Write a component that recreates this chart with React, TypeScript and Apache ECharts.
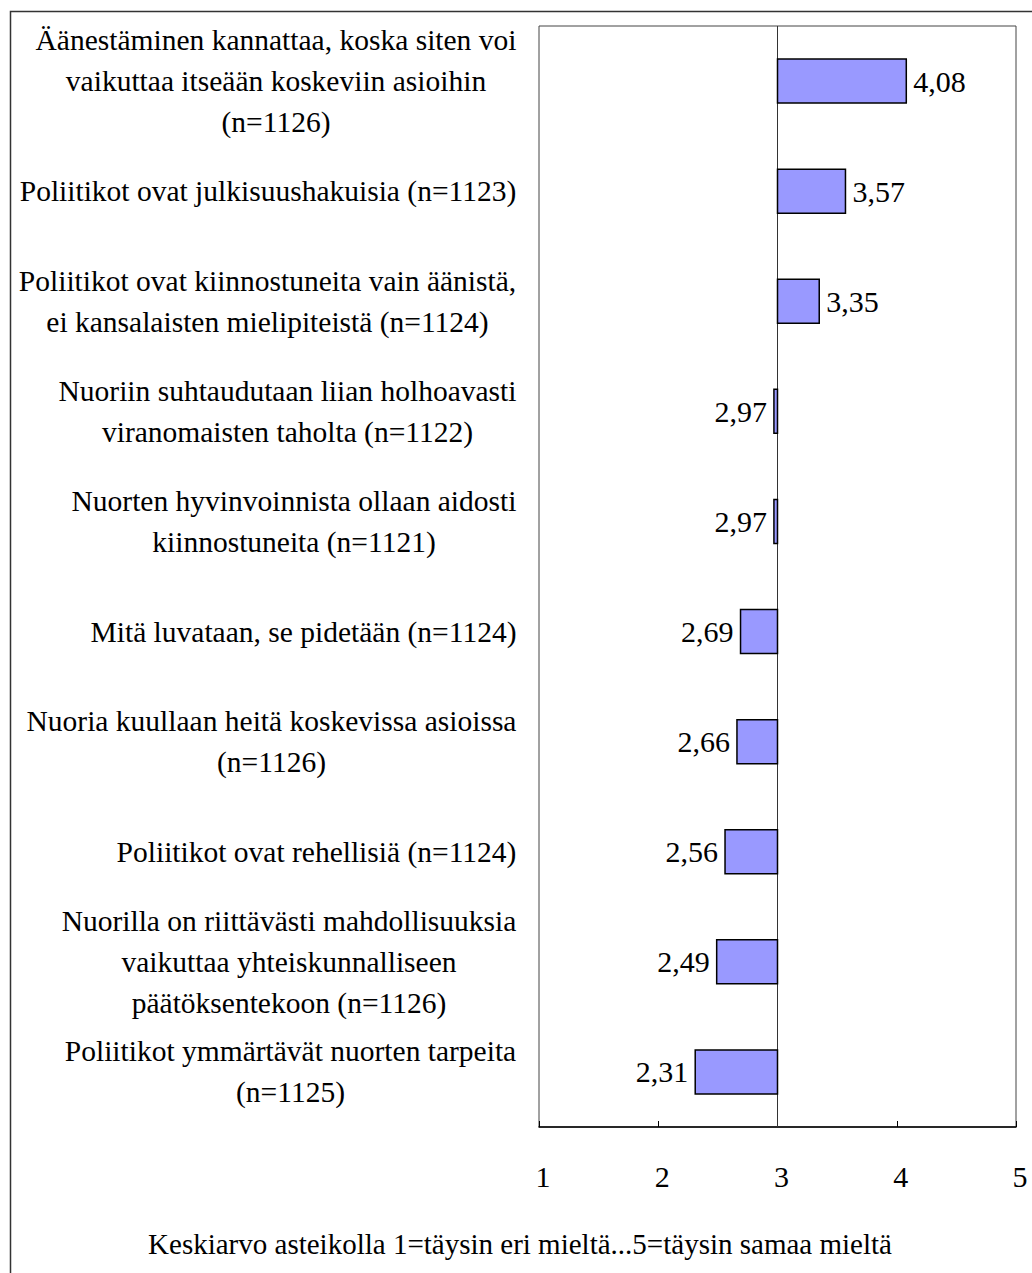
import React, { useEffect, useRef } from "react";
import * as echarts from "echarts";

const categories = [
  "Äänestäminen kannattaa, koska siten voi\nvaikuttaa itseään koskeviin asioihin\n(n=1126)",
  "Poliitikot ovat julkisuushakuisia (n=1123)",
  "Poliitikot ovat kiinnostuneita vain äänistä,\nei kansalaisten mielipiteistä (n=1124)",
  "Nuoriin suhtaudutaan liian holhoavasti\nviranomaisten taholta (n=1122)",
  "Nuorten hyvinvoinnista ollaan aidosti\nkiinnostuneita (n=1121)",
  "Mitä luvataan, se pidetään (n=1124)",
  "Nuoria kuullaan heitä koskevissa asioissa\n(n=1126)",
  "Poliitikot ovat rehellisiä (n=1124)",
  "Nuorilla on riittävästi mahdollisuuksia\nvaikuttaa yhteiskunnalliseen\npäätöksentekoon (n=1126)",
  "Poliitikot ymmärtävät nuorten tarpeita\n(n=1125)",
];
const values = [4.08, 3.57, 3.35, 2.97, 2.97, 2.69, 2.66, 2.56, 2.49, 2.31];
const xMin = 1;
const xMax = 5;
const baseline = 3;
const xAxisTitle = "Keskiarvo asteikolla 1=täysin eri mieltä...5=täysin samaa mieltä";

const FONT = "'Liberation Serif', 'Times New Roman', Times, serif";
const FS = 29.5;

export default function App() {
  const ref = useRef<HTMLDivElement>(null);
  useEffect(() => {
    document.body.style.margin = "0";
    document.body.style.overflow = "hidden";
    const chart = echarts.init(ref.current!, null, { renderer: "svg" });

    const canvas = document.createElement("canvas");
    const ctx = canvas.getContext("2d")!;
    ctx.font = `${FS}px 'Liberation Serif', serif`;
    const widths = categories.map((c) =>
      Math.max(...c.split("\n").map((l) => ctx.measureText(l).width))
    );
    const rich: any = {};
    widths.forEach((w, i) => {
      rich["c" + i] = {
        width: Math.ceil(w) + 1,
        align: "center",
        fontSize: FS,
        fontFamily: FONT,
        lineHeight: 41,
        color: "#000",
      };
    });

    const fmt = (v: number) => v.toFixed(2).replace(".", ",");

    chart.setOption({
      animation: false,
      backgroundColor: "#fff",
      grid: {
        left: 539,
        top: 26,
        right: 16,
        bottom: 146,
        show: true,
        borderColor: "#444",
        borderWidth: 1,
        backgroundColor: "transparent",
      },
      xAxis: {
        type: "value",
        min: xMin,
        max: xMax,
        interval: 1,
        axisLine: { show: true, lineStyle: { color: "#000", width: 1.5 } },
        axisTick: { show: true, inside: true, length: 6, lineStyle: { color: "#000", width: 1 } },
        splitLine: { show: false },
        axisLabel: {
          margin: 34,
          fontSize: 30,
          fontFamily: FONT,
          color: "#000",
          padding: [0, 0, 0, 8],
          showMinLabel: true,
          showMaxLabel: true,
        },
      },
      yAxis: {
        type: "category",
        inverse: true,
        data: categories,
        axisLine: { show: false },
        axisTick: { show: false },
        axisLabel: {
          margin: 22,
          interval: 0,
          align: "right",
          formatter: (val: string) => {
            const i = categories.indexOf(val);
            return val
              .split("\n")
              .map((l) => `{c${i}|${l}}`)
              .join("\n");
          },
          rich,
        },
      },
      graphic: [
        {
          type: "rect",
          z: -10,
          shape: { x: 10.5, y: 11.5, width: 2000, height: 2000 },
          style: { fill: "none", stroke: "#333", lineWidth: 1.5 },
        },
        {
          type: "text",
          x: 520,
          y: 1244,
          style: {
            text: xAxisTitle,
            align: "center",
            verticalAlign: "middle",
            fontSize: 29,
            fontFamily: FONT,
            fill: "#000",
          },
        },
      ],
      series: [
        {
          type: "custom",
          data: values.map((v, i) => [v, i]),
          encode: { x: 0, y: 1 },
          renderItem: (params: any, api: any) => {
            const v = api.value(0);
            const cat = api.value(1);
            const start = api.coord([baseline, cat]);
            const end = api.coord([v, cat]);
            const bandH = api.size([0, 1])[1];
            const h = bandH * 0.4;
            const x0 = Math.min(start[0], end[0]);
            const w = Math.abs(end[0] - start[0]);
            const right = v >= baseline;
            return {
              type: "group",
              children: [
                {
                  type: "rect",
                  shape: { x: x0, y: start[1] - h / 2, width: w, height: h },
                  style: { fill: "#9999FF", stroke: "#000", lineWidth: 1.5 },
                },
                {
                  type: "text",
                  x: right ? end[0] + 7 : end[0] - 7,
                  y: start[1],
                  style: {
                    text: fmt(v),
                    align: right ? "left" : "right",
                    verticalAlign: "middle",
                    fontSize: 30,
                    fontFamily: FONT,
                    fill: "#000",
                  },
                },
              ],
            };
          },
          markLine: {
            silent: true,
            symbol: "none",
            label: { show: false },
            lineStyle: { color: "#333", width: 1, type: "solid" },
            data: [{ xAxis: baseline }],
            z: 1,
          },
        },
      ],
    });
    return () => chart.dispose();
  }, []);
  return (
    <div
      ref={ref}
      style={{ position: "absolute", left: 0, top: 0, width: 1032, height: 1273 }}
    />
  );
}
